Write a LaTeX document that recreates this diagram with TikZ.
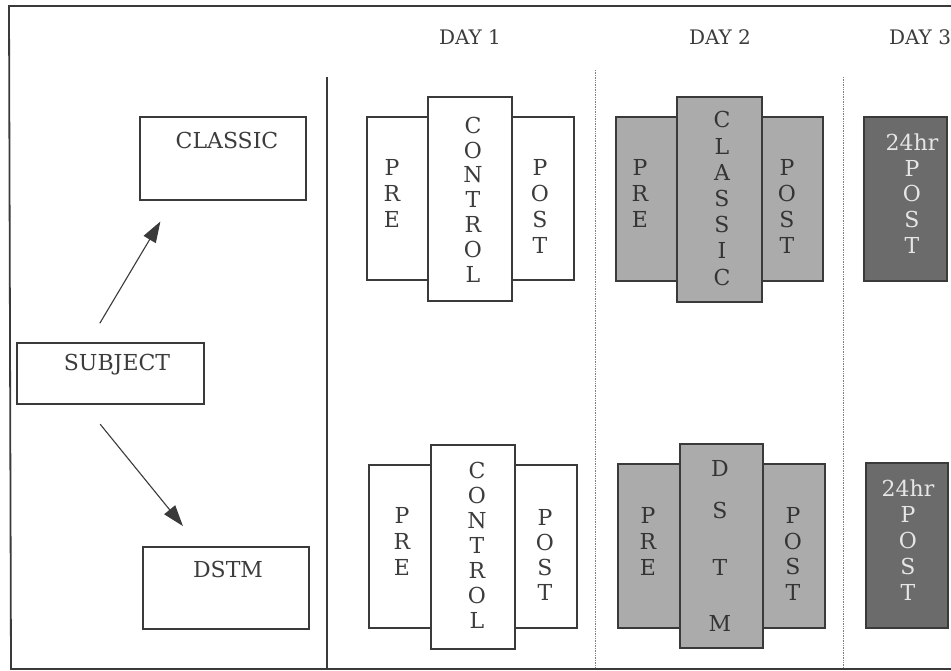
\documentclass[tikz,border=0pt]{standalone}
\usepackage{fontspec}
\setmainfont{DejaVu Serif}
\usetikzlibrary{arrows.meta,calc}
\definecolor{ink}{HTML}{3A3A3A}
\definecolor{txt}{HTML}{3C3C3C}
\definecolor{midgray}{HTML}{ABABAB}
\definecolor{darkgray2}{HTML}{6B6B6B}
\definecolor{lighttxt}{HTML}{E6E6E6}
\begin{document}
\begin{tikzpicture}[x=1pt,y=-1pt,
  box/.style={draw=ink,line width=1.3pt,fill=white,inner sep=0pt,outer sep=0pt},
  gbox/.style={box,fill=midgray},
  dbox/.style={box,fill=darkgray2},
  lbl/.style={text=txt,font=\fontsize{22}{26}\selectfont,inner sep=0pt,align=center},
  glbl/.style={lbl,text=ink!90!black},
  dlbl/.style={lbl,text=lighttxt},
  daylbl/.style={text=txt,font=\fontsize{20}{24}\selectfont,inner sep=0pt},
  arr/.style={draw=ink,line width=1.1pt,-{Triangle[length=21pt,width=14pt]}},
  dotline/.style={draw=gray,line width=0.7pt,densely dotted}
]
\useasboundingbox (0,0) rectangle (951,671);
\fill[white] (0,0) rectangle (951,671);
% frame
\draw[ink,line width=1.8pt] (951,6) -- (9,6) -- (11,669) -- (951,669);
\draw[ink,line width=1.4pt] (327,77) -- (327,669);
\draw[dotline] (595,70) -- (595,668);
\draw[dotline] (843,77) -- (843,668);
% day labels
\node[daylbl] (d1) at (470,37) {DAY 1};
\node[daylbl] (d2) at (720,37) {DAY 2};
\node[daylbl] (d3) at (920,37) {DAY 3};
% left boxes
\node[box,minimum width=166pt,minimum height=83pt] (classic) at (223,158.5) {};
\node[lbl] (classict) at (227,140) {CLASSIC};
\node[box,minimum width=187pt,minimum height=61pt] (subj) at (110.5,373.5) {};
\node[lbl] (subjt) at (117,365) {SUBJECT};
\node[box,minimum width=166pt,minimum height=82pt] (dstm) at (226,588) {};
\node[lbl] (dstmt) at (228,569) {DSTM};
\draw[arr,shorten <=23pt,shorten >=25pt] ($(subj.north west)!0.38!(subj.north east)$) -- ($(classic.south west)!0.2!(classic.south east)$);
\draw[arr,shorten <=26pt,shorten >=27pt] ($(subj.south west)!0.357!(subj.south east)$) -- ($(dstm.north west)!0.343!(dstm.north east)$);
% Day 1 top
\node[box,minimum width=61pt,minimum height=163pt] (pre1t) at (397.5,198.5) {};
\node[box,minimum width=62pt,minimum height=163pt] (post1t) at (543,198.5) {};
\node[box,minimum width=84pt,minimum height=204pt] (con1t) at (470,199) {};
\node[lbl] (pre1tt) at (392,193.5) {P\\R\\E};
\node[lbl,font=\fontsize{22}{24.8}\selectfont] (con1tt) at (473,199.5) {C\\O\\N\\T\\R\\O\\L};
\node[lbl] (post1tt) at (540,206) {P\\O\\S\\T};
% Day 1 bottom
\node[box,minimum width=62pt,minimum height=163pt] (pre1b) at (400,546.5) {};
\node[box,minimum width=62pt,minimum height=163pt] (post1b) at (546,546.5) {};
\node[box,minimum width=84pt,minimum height=204pt] (con1b) at (473,547) {};
\node[lbl] (pre1bt) at (402,541) {P\\R\\E};
\node[lbl,font=\fontsize{22}{25}\selectfont] (con1bt) at (477,545) {C\\O\\N\\T\\R\\O\\L};
\node[lbl,font=\fontsize{22}{25}\selectfont] (post1bt) at (545,554.5) {P\\O\\S\\T};
% Day 2 top
\node[gbox,minimum width=61pt,minimum height=164pt] (pre2t) at (646.5,199) {};
\node[gbox,minimum width=61pt,minimum height=164pt] (post2t) at (792.5,199) {};
\node[gbox,minimum width=85pt,minimum height=205pt] (cls2t) at (719.5,199.5) {};
\node[glbl] (pre2tt) at (640,193) {P\\R\\E};
\node[glbl,font=\fontsize{22}{26.2}\selectfont] (cls2tt) at (722,198.5) {C\\L\\A\\S\\S\\I\\C};
\node[glbl] (post2tt) at (787,206) {P\\O\\S\\T};
% Day 2 bottom
\node[gbox,minimum width=62pt,minimum height=164pt] (pre2b) at (649,546) {};
\node[gbox,minimum width=62pt,minimum height=164pt] (post2b) at (794,546) {};
\node[gbox,minimum width=83pt,minimum height=204pt] (dstm2b) at (721.5,546) {};
\node[glbl] (pre2bt) at (648,541) {P\\R\\E};
\node[glbl] (dsD) at (720,468) {D};
\node[glbl] (dsS) at (720,510) {S};
\node[glbl] (dsT) at (720,567) {T};
\node[glbl] (dsM) at (720,623) {M};
\node[glbl,font=\fontsize{22}{25.5}\selectfont] (post2bt) at (793,554) {P\\O\\S\\T};
% Day 3
\node[dbox,minimum width=83pt,minimum height=164pt] (h24t) at (905.5,199) {};
\node[dlbl,font=\fontsize{22}{25.75}\selectfont] (h24tt) at (912,193.5) {24hr\\P\\O\\S\\T};
\node[dbox,minimum width=82pt,minimum height=165pt] (h24b) at (907,545.5) {};
\node[dlbl,font=\fontsize{22}{26}\selectfont] (h24bt) at (908,540) {24hr\\P\\O\\S\\T};
\end{tikzpicture}
\end{document}
